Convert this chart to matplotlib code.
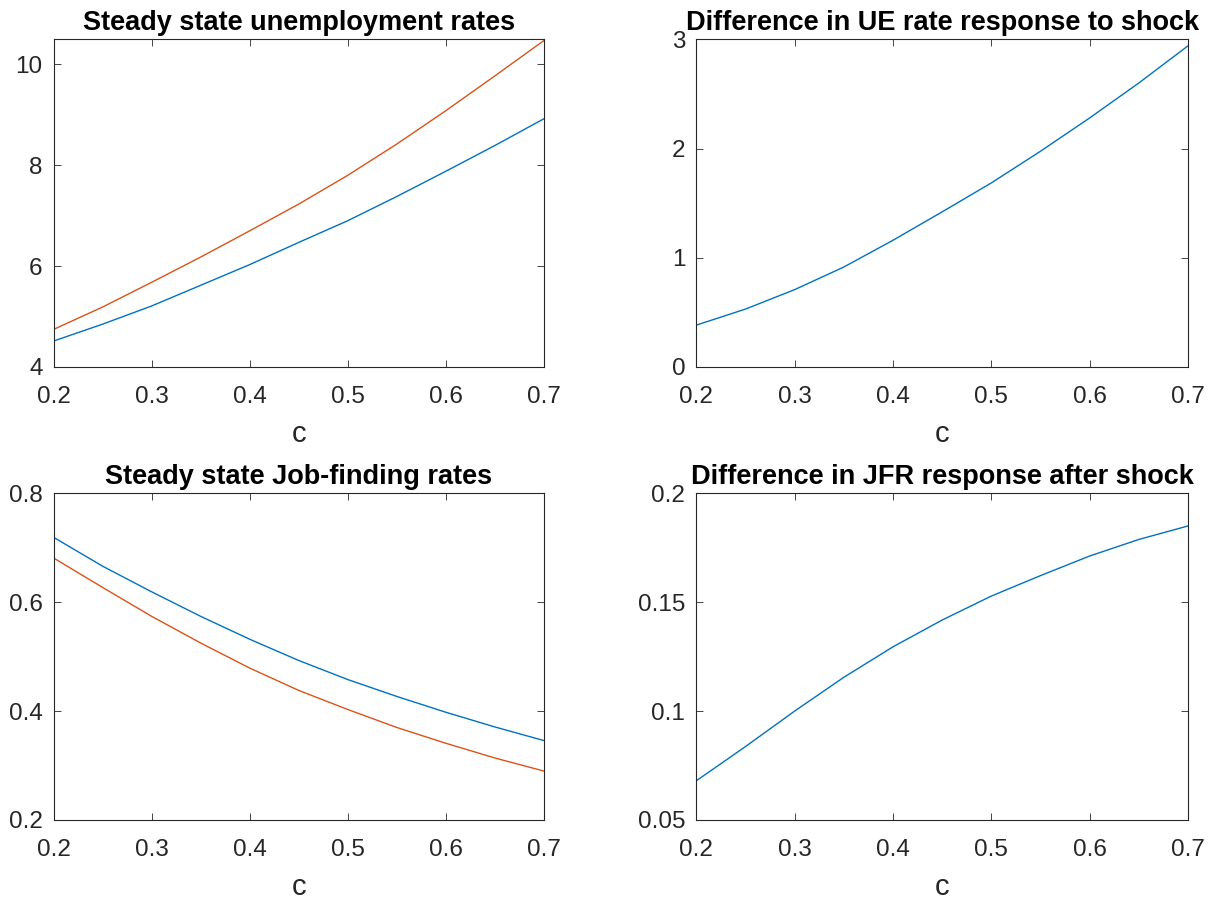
import numpy as np
import matplotlib
matplotlib.use("Agg")
import matplotlib.pyplot as plt

# values
c = [0.2, 0.25, 0.3, 0.35, 0.4, 0.45, 0.5, 0.55, 0.6, 0.65, 0.7]

ue_low = [4.515, 4.85, 5.21, 5.62, 6.03, 6.47, 6.90, 7.38, 7.88, 8.39, 8.92]
ue_high = [4.746, 5.19, 5.68, 6.18, 6.70, 7.23, 7.80, 8.42, 9.08, 9.77, 10.47]

ue_diff = [0.383, 0.53, 0.708, 0.915, 1.16, 1.42, 1.685, 1.975, 2.28, 2.60, 2.94]

jfr_low = [0.719, 0.666, 0.619, 0.574, 0.532, 0.493, 0.458, 0.427, 0.398, 0.371, 0.346]
jfr_high = [0.681, 0.627, 0.574, 0.525, 0.479, 0.438, 0.403, 0.370, 0.341, 0.314, 0.290]

jfr_diff = [0.068, 0.0837, 0.100, 0.1155, 0.1295, 0.1418, 0.1528, 0.1622, 0.1712, 0.1788, 0.185]

xticks = [0.2, 0.3, 0.4, 0.5, 0.6, 0.7]

BLUE = "#0072BD"
ORANGE = "#D95319"

plt.rcParams["font.family"] = ["Liberation Sans", "DejaVu Sans"]

fig = plt.figure(figsize=(12.12, 8.99), dpi=100)

boxes = {
    "tl": [0.0443, 0.5918, 0.4042, 0.3645],
    "tr": [0.5745, 0.5918, 0.4057, 0.3645],
    "bl": [0.0443, 0.0879, 0.4042, 0.3634],
    "br": [0.5745, 0.0879, 0.4057, 0.3634],
}


def style_axes(ax, title, ylim, yticks):
    ax.set_xlim(0.2, 0.7)
    ax.set_ylim(*ylim)
    ax.set_xticks(xticks)
    ax.set_xticklabels([f"{t:g}" for t in xticks])
    ax.set_yticks(yticks)
    ax.set_yticklabels([f"{t:g}" for t in yticks])
    ax.tick_params(direction="in", top=True, right=True, length=5, width=0.6,
                   colors="#262626", labelsize=17.5)
    ax.tick_params(axis="x", pad=14)
    ax.tick_params(axis="y", pad=8)
    for s in ax.spines.values():
        s.set_linewidth(0.8)
        s.set_color("#262626")
    ax.set_title(title, fontsize=19.5, fontweight="bold", pad=7)
    ax.set_xlabel("c", fontsize=21, color="#262626", labelpad=8)


ax1 = fig.add_axes(boxes["tl"])
ax1.plot(c, ue_low, color=BLUE, lw=1.0)
ax1.plot(c, ue_high, color=ORANGE, lw=1.0)
style_axes(ax1, "Steady state unemployment rates", (4, 10.5), [4, 6, 8, 10])

ax2 = fig.add_axes(boxes["tr"])
ax2.plot(c, ue_diff, color=BLUE, lw=1.0)
style_axes(ax2, "Difference in UE rate response to shock", (0, 3), [0, 1, 2, 3])

ax3 = fig.add_axes(boxes["bl"])
ax3.plot(c, jfr_low, color=BLUE, lw=1.0)
ax3.plot(c, jfr_high, color=ORANGE, lw=1.0)
style_axes(ax3, "Steady state Job-finding rates", (0.2, 0.8), [0.2, 0.4, 0.6, 0.8])

ax4 = fig.add_axes(boxes["br"])
ax4.plot(c, jfr_diff, color=BLUE, lw=1.0)
style_axes(ax4, "Difference in JFR response after shock", (0.05, 0.2), [0.05, 0.1, 0.15, 0.2])

fig.savefig("out.png", dpi=100, facecolor="white")
